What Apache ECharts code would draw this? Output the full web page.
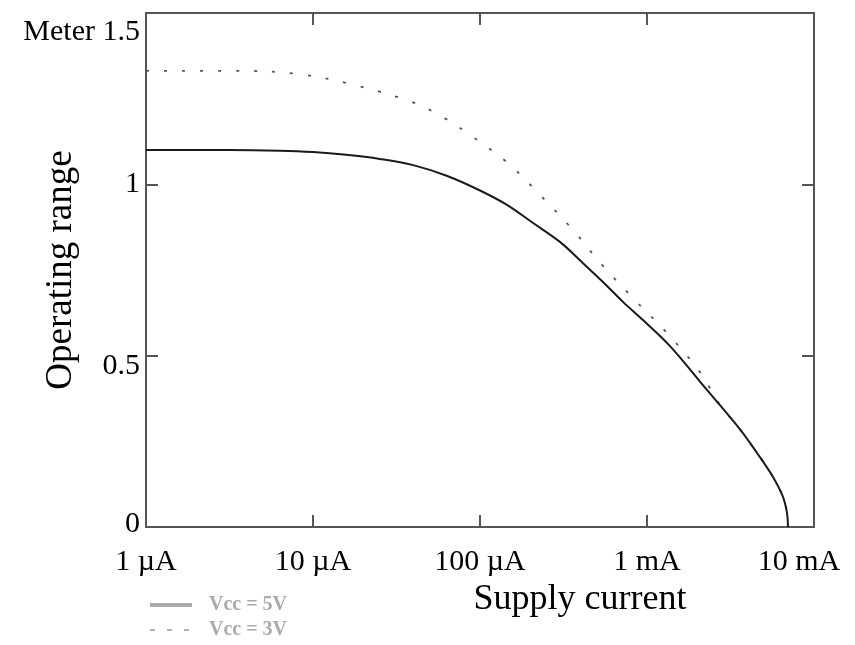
<!DOCTYPE html>
<html><head><meta charset="utf-8">
<script src="https://cdn.jsdelivr.net/npm/echarts@6/dist/echarts.min.js"></script>
<style>html,body{margin:0;padding:0;background:#fff}#c{width:855px;height:645px}</style>
</head><body><div id="c"></div>
<script>
// ---- data ----
const xTickLabels = ['1 µA', '10 µA', '100 µA', '1 mA', '10 mA'];
const yTickLabels = ['0', '0.5', '1', 'Meter 1.5'];
const seriesNames = ['Vcc = 5V', 'Vcc = 3V'];
const xAxisTitle = 'Supply current';
const yAxisTitle = 'Operating range';

// supply current in µA
const solidCurrent = [1, 3.16, 6.3, 10, 15.8, 25.1, 39.8, 63.1, 100, 145, 208, 301, 414, 545, 718, 946, 1374, 2286, 3606, 4560, 5680, 6520, 6890, 6985];
const solidRange   = [1.100, 1.100, 1.098, 1.094, 1.086, 1.074, 1.056, 1.025, 0.982, 0.940, 0.887, 0.832, 0.770, 0.715, 0.657, 0.604, 0.528, 0.400, 0.285, 0.216, 0.146, 0.088, 0.041, 0];

const dashCurrent = [1, 3.76, 8.13, 16.7, 39.2, 60.0, 90.8, 147, 229, 360, 538, 813, 1318, 2076, 2735, 3606, 4560, 5680, 6520, 6890, 6985];
const dashRange   = [1.331, 1.331, 1.322, 1.293, 1.240, 1.196, 1.138, 1.062, 0.969, 0.867, 0.765, 0.671, 0.566, 0.452, 0.356, 0.285, 0.216, 0.146, 0.088, 0.041, 0];

// ---- chart ----
const serif = 'Liberation Serif';
const frameColor = '#555';
const chart = echarts.init(document.getElementById('c'), null, {renderer: 'canvas'});

const yRich = {
  a: {fontFamily: serif, fontSize: 30, color: '#000', padding: [0, 0, 6, 0]},
  b: {fontFamily: serif, fontSize: 30, color: '#000', padding: [20, 0, 0, 0]},
  c: {fontFamily: serif, fontSize: 30, color: '#000'},
  d: {fontFamily: serif, fontSize: 30, color: '#000', padding: [38, 0, 0, 0]}
};
const yKeys = ['a', 'b', 'c', 'd'];

const xAxisCommon = {
  type: 'log', logBase: 10, min: 1, max: 10000,
  axisLine: {show: true, onZero: false, lineStyle: {color: frameColor, width: 2}},
  axisTick: {show: true, inside: true, length: 12, lineStyle: {color: frameColor, width: 2}},
  minorTick: {show: false}, splitLine: {show: false}, minorSplitLine: {show: false}
};
const yAxisCommon = {
  type: 'value', min: 0, max: 1.5, interval: 0.5,
  axisLine: {show: true, onZero: false, lineStyle: {color: frameColor, width: 2}},
  axisTick: {show: true, inside: true, length: 12, lineStyle: {color: frameColor, width: 2}},
  splitLine: {show: false}
};

chart.setOption({
  animation: false,
  backgroundColor: '#fff',
  grid: {left: 146, right: 41, top: 13, bottom: 118, containLabel: false, outerBoundsMode: 'none'},
  legend: {
    orient: 'vertical', left: 148, top: 595, padding: 0,
    itemWidth: 42, itemHeight: 14, itemGap: 5,
    textStyle: {color: '#aaa', fontSize: 20, lineHeight: 20, fontFamily: serif, fontWeight: 'bold', padding: [0, 0, 0, 12]},
    data: [
      {name: seriesNames[0], itemStyle: {opacity: 0}, lineStyle: {color: '#aaa', width: 4, type: 'solid', opacity: 1}},
      {name: seriesNames[1], itemStyle: {opacity: 0}, lineStyle: {color: '#999', width: 1.5, type: [5, 12], opacity: 1}}
    ]
  },
  xAxis: [
    Object.assign({}, xAxisCommon, {
      position: 'bottom',
      axisLabel: {
        show: true, showMinLabel: true, showMaxLabel: true, margin: 20,
        fontFamily: serif, fontSize: 30, color: '#000',
        formatter: function (v) {
          const i = Math.round(Math.log10(v));
          return i === xTickLabels.length - 1 ? '{r|' + xTickLabels[i] + '}' : xTickLabels[i];
        },
        rich: {r: {fontFamily: serif, fontSize: 30, color: '#000', padding: [0, 30, 0, 0]}}
      },
      name: xAxisTitle, nameLocation: 'middle', nameGap: 55, nameMoveOverlap: false,
      nameTextStyle: {fontFamily: serif, fontSize: 36, color: '#000', padding: [0, 0, 0, 200]}
    }),
    Object.assign({}, xAxisCommon, {position: 'top', axisLabel: {show: false}})
  ],
  yAxis: [
    Object.assign({}, yAxisCommon, {
      position: 'left',
      axisLabel: {
        show: true, margin: 6, fontFamily: serif, fontSize: 30, color: '#000',
        formatter: function (v) {
          const i = Math.round(v / 0.5);
          return '{' + yKeys[i] + '|' + yTickLabels[i] + '}';
        },
        rich: yRich
      },
      name: yAxisTitle, nameLocation: 'middle', nameGap: 66, nameRotate: 90, nameMoveOverlap: false,
      nameTextStyle: {fontFamily: serif, fontSize: 37, color: '#000'}
    }),
    Object.assign({}, yAxisCommon, {position: 'right', axisLabel: {show: false}})
  ],
  series: [
    {
      name: seriesNames[1], type: 'line', symbol: 'none', showSymbol: false, smooth: 0.35, z: 2,
      data: dashCurrent.map((c, i) => [c, dashRange[i]]),
      lineStyle: {color: '#555', width: 1.8, type: [3, 15]}
    },
    {
      name: seriesNames[0], type: 'line', symbol: 'none', showSymbol: false, smooth: 0.35, z: 3,
      data: solidCurrent.map((c, i) => [c, solidRange[i]]),
      lineStyle: {color: '#1a1a1a', width: 2}
    }
  ]
});
</script>
</body></html>
